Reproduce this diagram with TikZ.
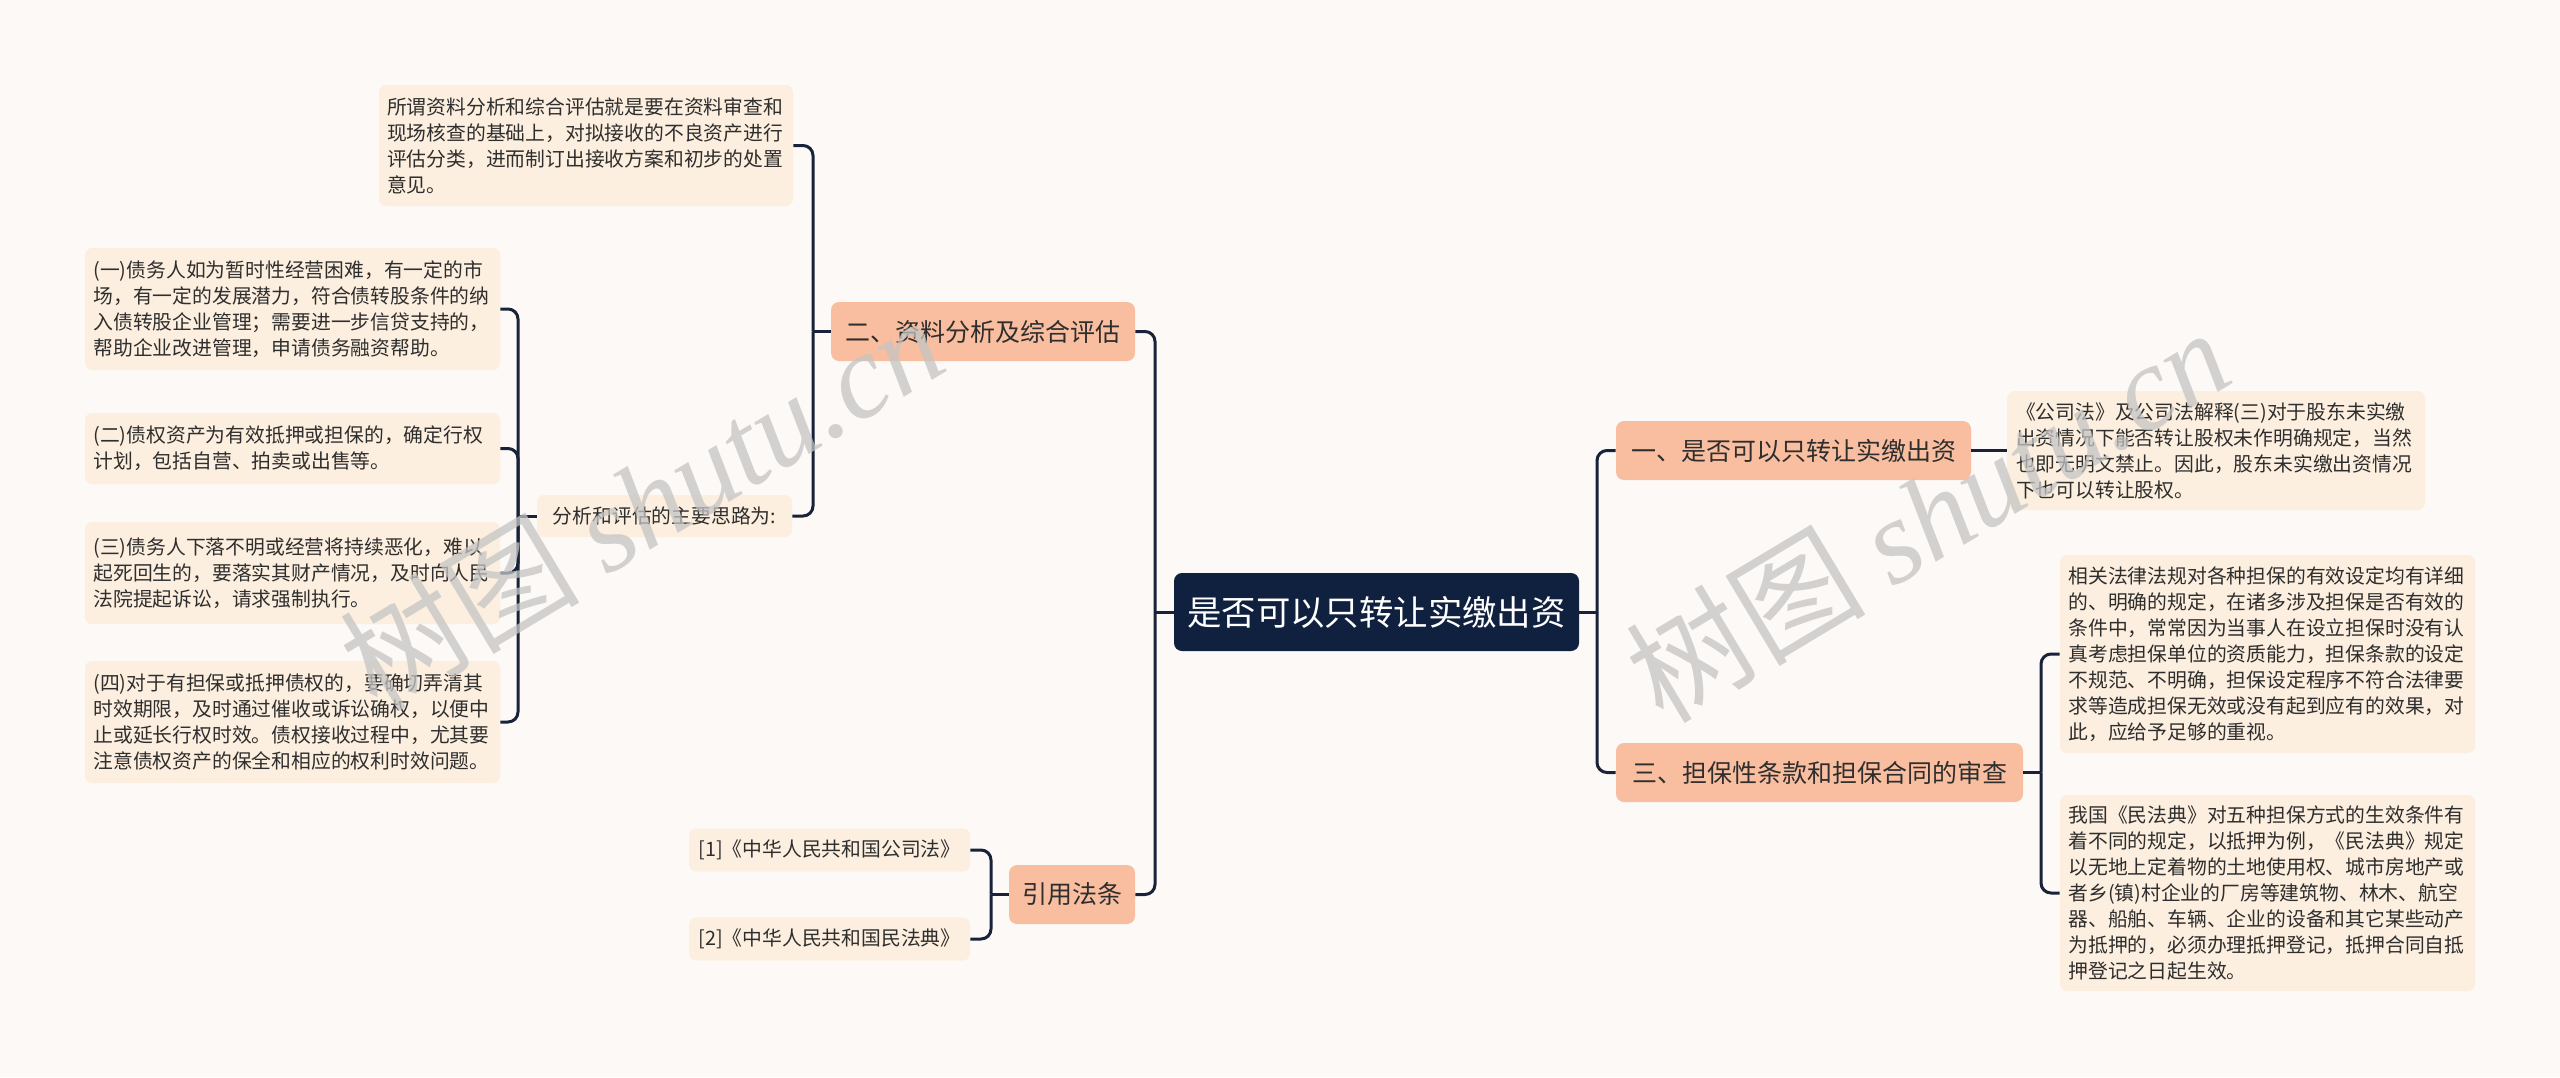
\documentclass[tikz,border=0pt]{standalone}
\usepackage{fontspec}
\setmainfont{Noto Sans CJK SC}
\newfontfamily\wmserif{Liberation Serif}
\usetikzlibrary{calc}
\definecolor{bgc}{HTML}{FDF9F6}
\definecolor{topc}{HTML}{F9BE9F}
\definecolor{leafc}{HTML}{FDEFDF}
\definecolor{rootc}{HTML}{10213F}
\definecolor{linec}{HTML}{18233A}
\definecolor{txt}{HTML}{2E2E2E}
\definecolor{wmc}{HTML}{C4C4C4}
\tikzset{
  conn/.style={draw=linec, line width=1.5pt, rounded corners=5pt},
  rootbox/.style={fill=rootc, rounded corners=4pt, text=white, font=\fontsize{17.2}{21}\selectfont, inner sep=0pt, minimum width=202.5pt, minimum height=39pt},
  topicbox/.style={fill=topc, rounded corners=4pt, text=txt, font=\fontsize{12.5}{15}\selectfont, inner sep=0pt, minimum height=29.5pt},
  leafbox/.style={fill=leafc, rounded corners=3.5pt, text=txt, font=\fontsize{9.9}{13}\selectfont, align=left, inner sep=0pt},
  wmark/.style={text=wmc, opacity=0.75, rotate=31, inner sep=0pt}
}
\begin{document}
\begin{tikzpicture}[x=0.5pt,y=-0.5pt]
\fill[bgc] (0,0) rectangle (2560,1077);
\useasboundingbox (0,0) rectangle (2560,1077);

% root
\node[rootbox] (root) at (1376.5,612) {是否可以只转让实缴出资};

% left topics
\node[topicbox, minimum width=152pt] (t2) at (983,331.5) {二、资料分析及综合评估};
\node[topicbox, minimum width=63pt] (tyy) at (1072,894.5) {引用法条};

% leaves of t2
\node[leafbox, text width=199pt, minimum width=207pt, minimum height=60.5pt] (lsuo) at (586,145.5) {所谓资料分析和综合评估就是要在资料审查和\\现场核查的基础上，对拟接收的不良资产进行\\评估分类，进而制订出接收方案和初步的处置\\意见。};
\node[leafbox, minimum width=127.5pt, minimum height=21pt] (lfx) at (664.5,516) {分析和评估的主要思路为:};

\node[leafbox, text width=199pt, minimum width=207.5pt, minimum height=61pt] (l1) at (292.5,309) {(一)债务人如为暂时性经营困难，有一定的市\\场，有一定的发展潜力，符合债转股条件的纳\\入债转股企业管理；需要进一步信贷支持的，\\帮助企业改进管理，申请债务融资帮助。};
\node[leafbox, text width=199pt, minimum width=207.5pt, minimum height=35.5pt] (l2) at (292.5,448.5) {(二)债权资产为有效抵押或担保的，确定行权\\计划，包括自营、拍卖或出售等。};
\node[leafbox, text width=199pt, minimum width=207.5pt, minimum height=51pt] (l3) at (292.5,573) {(三)债务人下落不明或经营将持续恶化，难以\\起死回生的，要落实其财产情况，及时向人民\\法院提起诉讼，请求强制执行。};
\node[leafbox, text width=199pt, minimum width=207.5pt, minimum height=61pt] (l4) at (292.5,722) {(四)对于有担保或抵押债权的，要确切弄清其\\时效期限，及时通过催收或诉讼确权，以便中\\止或延长行权时效。债权接收过程中，尤其要\\注意债权资产的保全和相应的权利时效问题。};

% leaves of tyy
\node[leafbox, minimum width=140.5pt, minimum height=21.5pt] (c1) at (829.5,850) {[1]《中华人民共和国公司法》};
\node[leafbox, minimum width=140.5pt, minimum height=21.5pt] (c2) at (829.5,939) {[2]《中华人民共和国民法典》};

% right topics
\node[topicbox, minimum width=177.5pt] (t1) at (1793.5,450.5) {一、是否可以只转让实缴出资};
\node[topicbox, minimum width=203.5pt] (t3) at (1819.5,772.5) {三、担保性条款和担保合同的审查};

\node[leafbox, text width=200pt, minimum width=209pt, minimum height=59.5pt] (r1) at (2216,450.5) {《公司法》及公司法解释(三)对于股东未实缴\\出资情况下能否转让股权未作明确规定，当然\\也即无明文禁止。因此，股东未实缴出资情况\\下也可以转让股权。};
\node[leafbox, text width=199pt, minimum width=207.5pt, minimum height=99pt] (r2) at (2267.5,654) {相关法律法规对各种担保的有效设定均有详细\\的、明确的规定，在诸多涉及担保是否有效的\\条件中，常常因为当事人在设立担保时没有认\\真考虑担保单位的资质能力，担保条款的设定\\不规范、不明确，担保设定程序不符合法律要\\求等造成担保无效或没有起到应有的效果，对\\此，应给予足够的重视。};
\node[leafbox, text width=199pt, minimum width=207.5pt, minimum height=98pt] (r3) at (2267.5,893) {我国《民法典》对五种担保方式的生效条件有\\着不同的规定，以抵押为例，《民法典》规定\\以无地上定着物的土地使用权、城市房地产或\\者乡(镇)村企业的厂房等建筑物、林木、航空\\器、船舶、车辆、企业的设备和其它某些动产\\为抵押的，必须办理抵押登记，抵押合同自抵\\押登记之日起生效。};

% junction coordinates
\coordinate (jL) at (1155,612);
\coordinate (j2) at (813,331.5);
\coordinate (jfx) at (518,516);
\coordinate (jyy) at (991,894.5);
\coordinate (jR) at (1597,612);
\coordinate (j3) at (2041,772.5);

% connectors
\draw[conn] (root.west) -- (jL);
\draw[conn] (jL) |- (t2.east);
\draw[conn] (jL) |- (tyy.east);

\draw[conn] (t2.west) -- (j2);
\draw[conn] (j2) |- (lsuo.east);
\draw[conn] (j2) |- (lfx.east);

\draw[conn] (lfx.west) -- (jfx);
\draw[conn] (jfx) |- (l1.east);
\draw[conn] (jfx) |- (l2.east);
\draw[conn] (jfx) |- (l3.east);
\draw[conn] (jfx) |- (l4.east);

\draw[conn] (tyy.west) -- (jyy);
\draw[conn] (jyy) |- (c1.east);
\draw[conn] (jyy) |- (c2.east);

\draw[conn] (root.east) -- (jR);
\draw[conn] (jR) |- (t1.west);
\draw[conn] (jR) |- (t3.west);

\draw[conn] (t1.east) -- (r1.west);

\draw[conn] (t3.east) -- (j3);
\draw[conn] (j3) |- (r2.west);
\draw[conn] (j3) |- (r3.west);

% watermarks
\node[wmark] (wm1) at (641,502) {\fontsize{60}{60}\selectfont 树图 {\wmserif\itshape shutu.cn}};
\node[wmark] (wm2) at (1927,514) {\fontsize{60}{60}\selectfont 树图 {\wmserif\itshape shutu.cn}};
\end{tikzpicture}
\end{document}
